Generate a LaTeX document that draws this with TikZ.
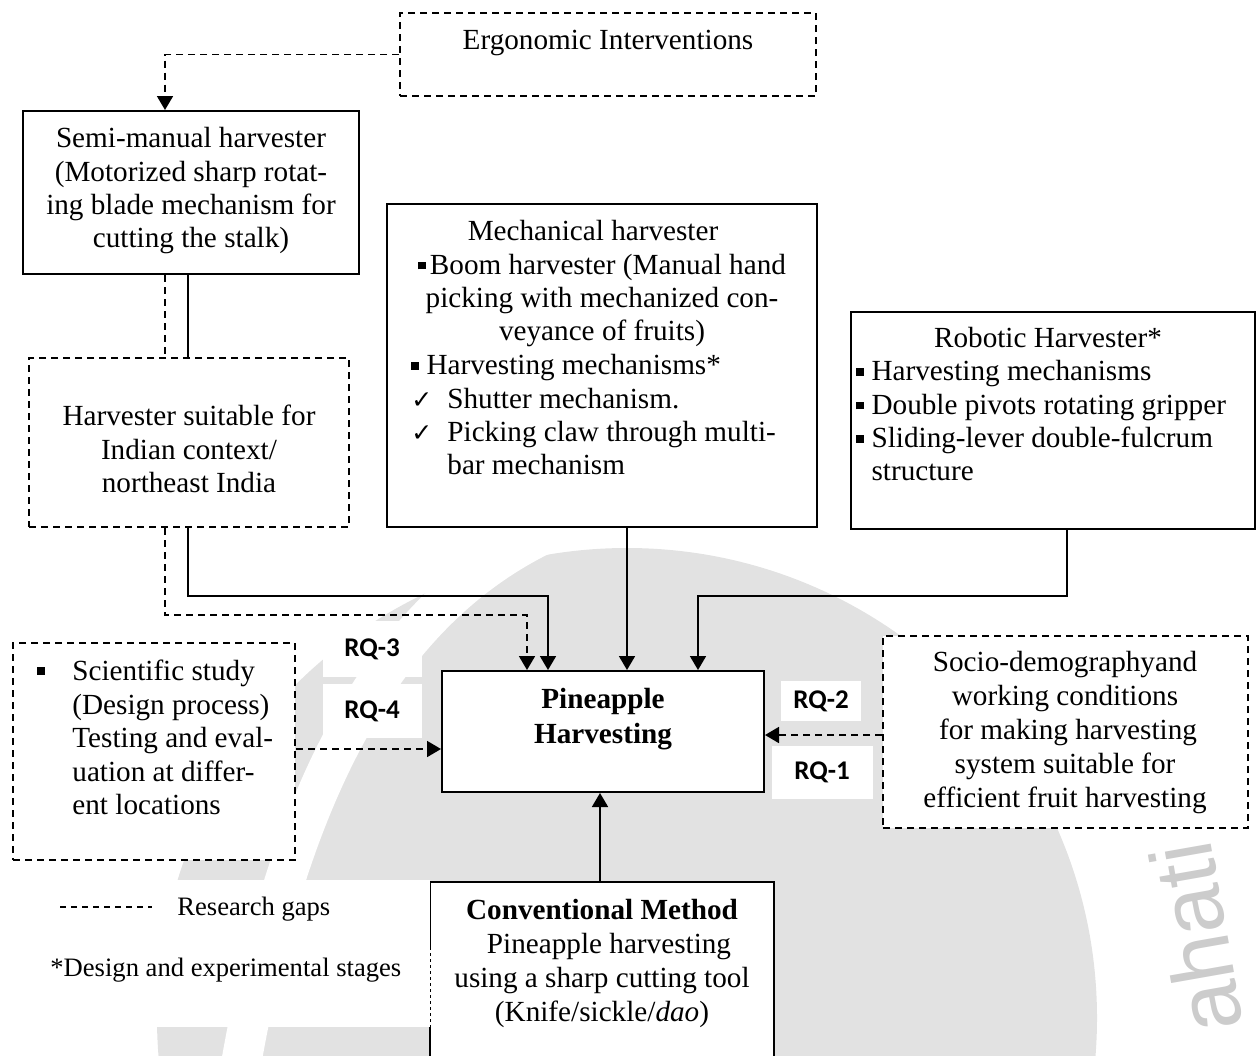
\documentclass[tikz,border=0pt]{standalone}
\usepackage{fontspec}
\setmainfont{Liberation Serif}
\newfontfamily\rqfont{Carlito}
\newfontfamily\symfont{DejaVu Sans}
\newfontfamily\markfont{Liberation Sans}
\usetikzlibrary{arrows.meta,fit,calc}

\newcommand\bodyfs{\fontsize{14.6}{16.7}\selectfont}
\newcommand\loosefs{\fontsize{14.6}{17}\selectfont}
\newcommand\legendfs{\fontsize{13.3}{16}\selectfont}
\newcommand\sqbul{\rule[0.16em]{0.27em}{0.27em}}
\newcommand\tick{{\symfont\fontsize{12.5}{16.7}\selectfont ✓}}

\definecolor{emblem}{gray}{0.885}
\definecolor{emblemtext}{gray}{0.80}

\tikzset{
  frame/.style={draw, line width=1pt, fill=white, inner sep=0pt},
  gapframe/.style={frame, dash pattern=on 3.5pt off 2.5pt},
  solidrun/.style={line width=0.9pt},
  gaprun/.style={solidrun, dash pattern=on 3.5pt off 2.5pt},
  arrowrun/.style={solidrun, -{Triangle[width=8pt,length=7pt]}},
  gaparrow/.style={arrowrun, dash pattern=on 3.5pt off 2.5pt},
  txt/.style={inner sep=0pt, font=\bodyfs, align=center, anchor=north},
  ltxt/.style={inner sep=0pt, font=\bodyfs, align=left, anchor=north west},
  rq/.style={font=\rqfont\bfseries\fontsize{13.5}{15}\selectfont, fill=white, inner sep=0pt},
  legend/.style={inner sep=0pt, font=\legendfs, anchor=west}
}

\begin{document}
\begin{tikzpicture}[x=0.5pt,y=-0.5pt]
\useasboundingbox (0,0) rectangle (1257,1055);
\clip (0,0) rectangle (1257,1055);

% ---------- faint emblem in the background ----------
\fill[emblem] (627,1018) circle[radius=470];
\draw[white, line width=20pt] (590,515) .. controls (430,570) and (300,720) .. (240,1070);
\node[emblemtext, font=\markfont\fontsize{44}{48}\selectfont, rotate=100, inner sep=0pt] (mark) at (1196,938) {ahati};

% ---------- research-question labels (white ground) ----------
\node[rq, minimum width=49.5pt, minimum height=28pt] (rq3) at (372,649) {RQ-3};
\node[rq, minimum width=49.5pt, minimum height=27pt] (rq4) at (372,711) {RQ-4};
\node[rq, minimum width=40pt, minimum height=20pt] (rq2) at (821,701) {RQ-2};
\node[rq, minimum width=50.5pt, minimum height=26.5pt] (rq1) at (822,772) {RQ-1};

% ---------- boxes ----------
\node[gapframe, fit={(400,13) (816,96)}] (erg) {};
\node[frame, fit={(23,111) (359,274)}] (semi) {};
\node[gapframe, fit={(29,358) (349,527)}] (harv) {};
\node[frame, fit={(387,204) (817,527)}] (mech) {};
\node[frame, fit={(851,312) (1255,529)}] (robo) {};
\node[frame, fit={(442,671) (764,792)}] (pine) {};
\node[gapframe, fit={(13,643) (295,860)}] (sci) {};
\node[gapframe, fit={(883,636) (1248,828)}] (socio) {};
\node[frame, fit={(430,882) (774,1075)}] (conv) {};

% white ground under the legend; it hides the left edge of the bottom box
\fill[white] (155,880) rectangle (430,947);
\fill[white] (0,947) rectangle (433,1027);
\draw[line width=0.4pt, dash pattern=on 1.5pt off 1.5pt] (430,947) -- (430,1027);

% ---------- positions of the vertical runs ----------
\coordinate (xa) at (165,0);
\coordinate (xb) at (188,0);
\coordinate (xm) at (627,0);
\coordinate (xr) at (1067,0);
\coordinate (xc) at (600,0);
\coordinate (ys) at (0,749);
\coordinate (yq) at (0,735);
\coordinate (jd) at (527,615);
\coordinate (js) at (548,596);
\coordinate (jr) at (698,596);

% ---------- connectors ----------
\draw[gaparrow] (erg.west) -| (semi.north -| xa);
\draw[gaprun] (semi.south -| xa) -- (harv.north -| xa);
\draw[solidrun] (semi.south -| xb) -- (harv.north -| xb);
\draw[gaparrow] (harv.south -| xa) |- (jd) -- (pine.north -| jd);
\draw[arrowrun] (harv.south -| xb) |- (js) -- (pine.north -| js);
\draw[arrowrun] (mech.south -| xm) -- (pine.north -| xm);
\draw[arrowrun] (robo.south -| xr) |- (jr) -- (pine.north -| jr);
\draw[gaparrow] (sci.east |- ys) -- (pine.west |- ys);
\draw[gaparrow] (socio.west |- yq) -- (pine.east |- yq);
\draw[arrowrun] (conv.north -| xc) -- (pine.south -| xc);

% ---------- box texts ----------
\node[txt] (ergT) at (608,30) {Ergonomic Interventions};
\node[txt] (semiT) at (191,127) {Semi-manual harvester\\(Motorized sharp rotat-\\ing blade mechanism for\\cutting the stalk)};
\node[txt] (harvT) at (189,405) {Harvester suitable for\\Indian context/\\northeast India};
\node[txt] (mechT) at (602,220) {Mechanical harvester\kern9pt\\\sqbul\kern2pt Boom harvester (Manual hand\\picking with mechanized con-\\veyance of fruits)};
\node[ltxt] (mechL) at (411,354) {\sqbul\ Harvesting mechanisms*\\\makebox[18pt][l]{\tick}Shutter mechanism.\\\makebox[18pt][l]{\tick}Picking claw through multi-\\\hspace*{18pt}bar mechanism};
\node[txt] (roboT) at (1048,327) {Robotic Harvester*};
\node[ltxt] (roboL) at (856,360) {\sqbul\ Harvesting mechanisms\\\sqbul\ Double pivots rotating gripper\\\sqbul\ Sliding-lever double-fulcrum\\\phantom{\sqbul\ }structure};
\node[inner sep=0pt, font=\bodyfs, anchor=west] (sciB) at (37,673) {\sqbul};
\node[ltxt] (sciL) at (72,660) {Scientific study\\(Design process)\\Testing and eval-\\uation at differ-\\ent locations};
\node[txt, font=\loosefs] (socioT) at (1065,651) {Socio-demographyand\\working conditions\\\hspace*{3pt}for making harvesting\\system suitable for\\efficient fruit harvesting};
\node[txt, font=\fontsize{14.6}{17.5}\selectfont\bfseries] (pineT) at (603,688) {Pineapple\\Harvesting};
\node[txt, font=\loosefs] (convT) at (602,899) {\textbf{Conventional Method}\\\hspace*{7pt}Pineapple harvesting\\using a sharp cutting tool\\(Knife/sickle/\textit{dao})};

% ---------- legend ----------
\coordinate (lgA) at (60,907);
\coordinate (lgB) at (152,907);
\draw[line width=0.7pt, dash pattern=on 3pt off 2.5pt] (lgA) -- (lgB);
\node[legend] (lgGap) at (177,909) {Research gaps};
\node[legend] (lgStage) at (50,970) {*Design and experimental stages};
\end{tikzpicture}
\end{document}
